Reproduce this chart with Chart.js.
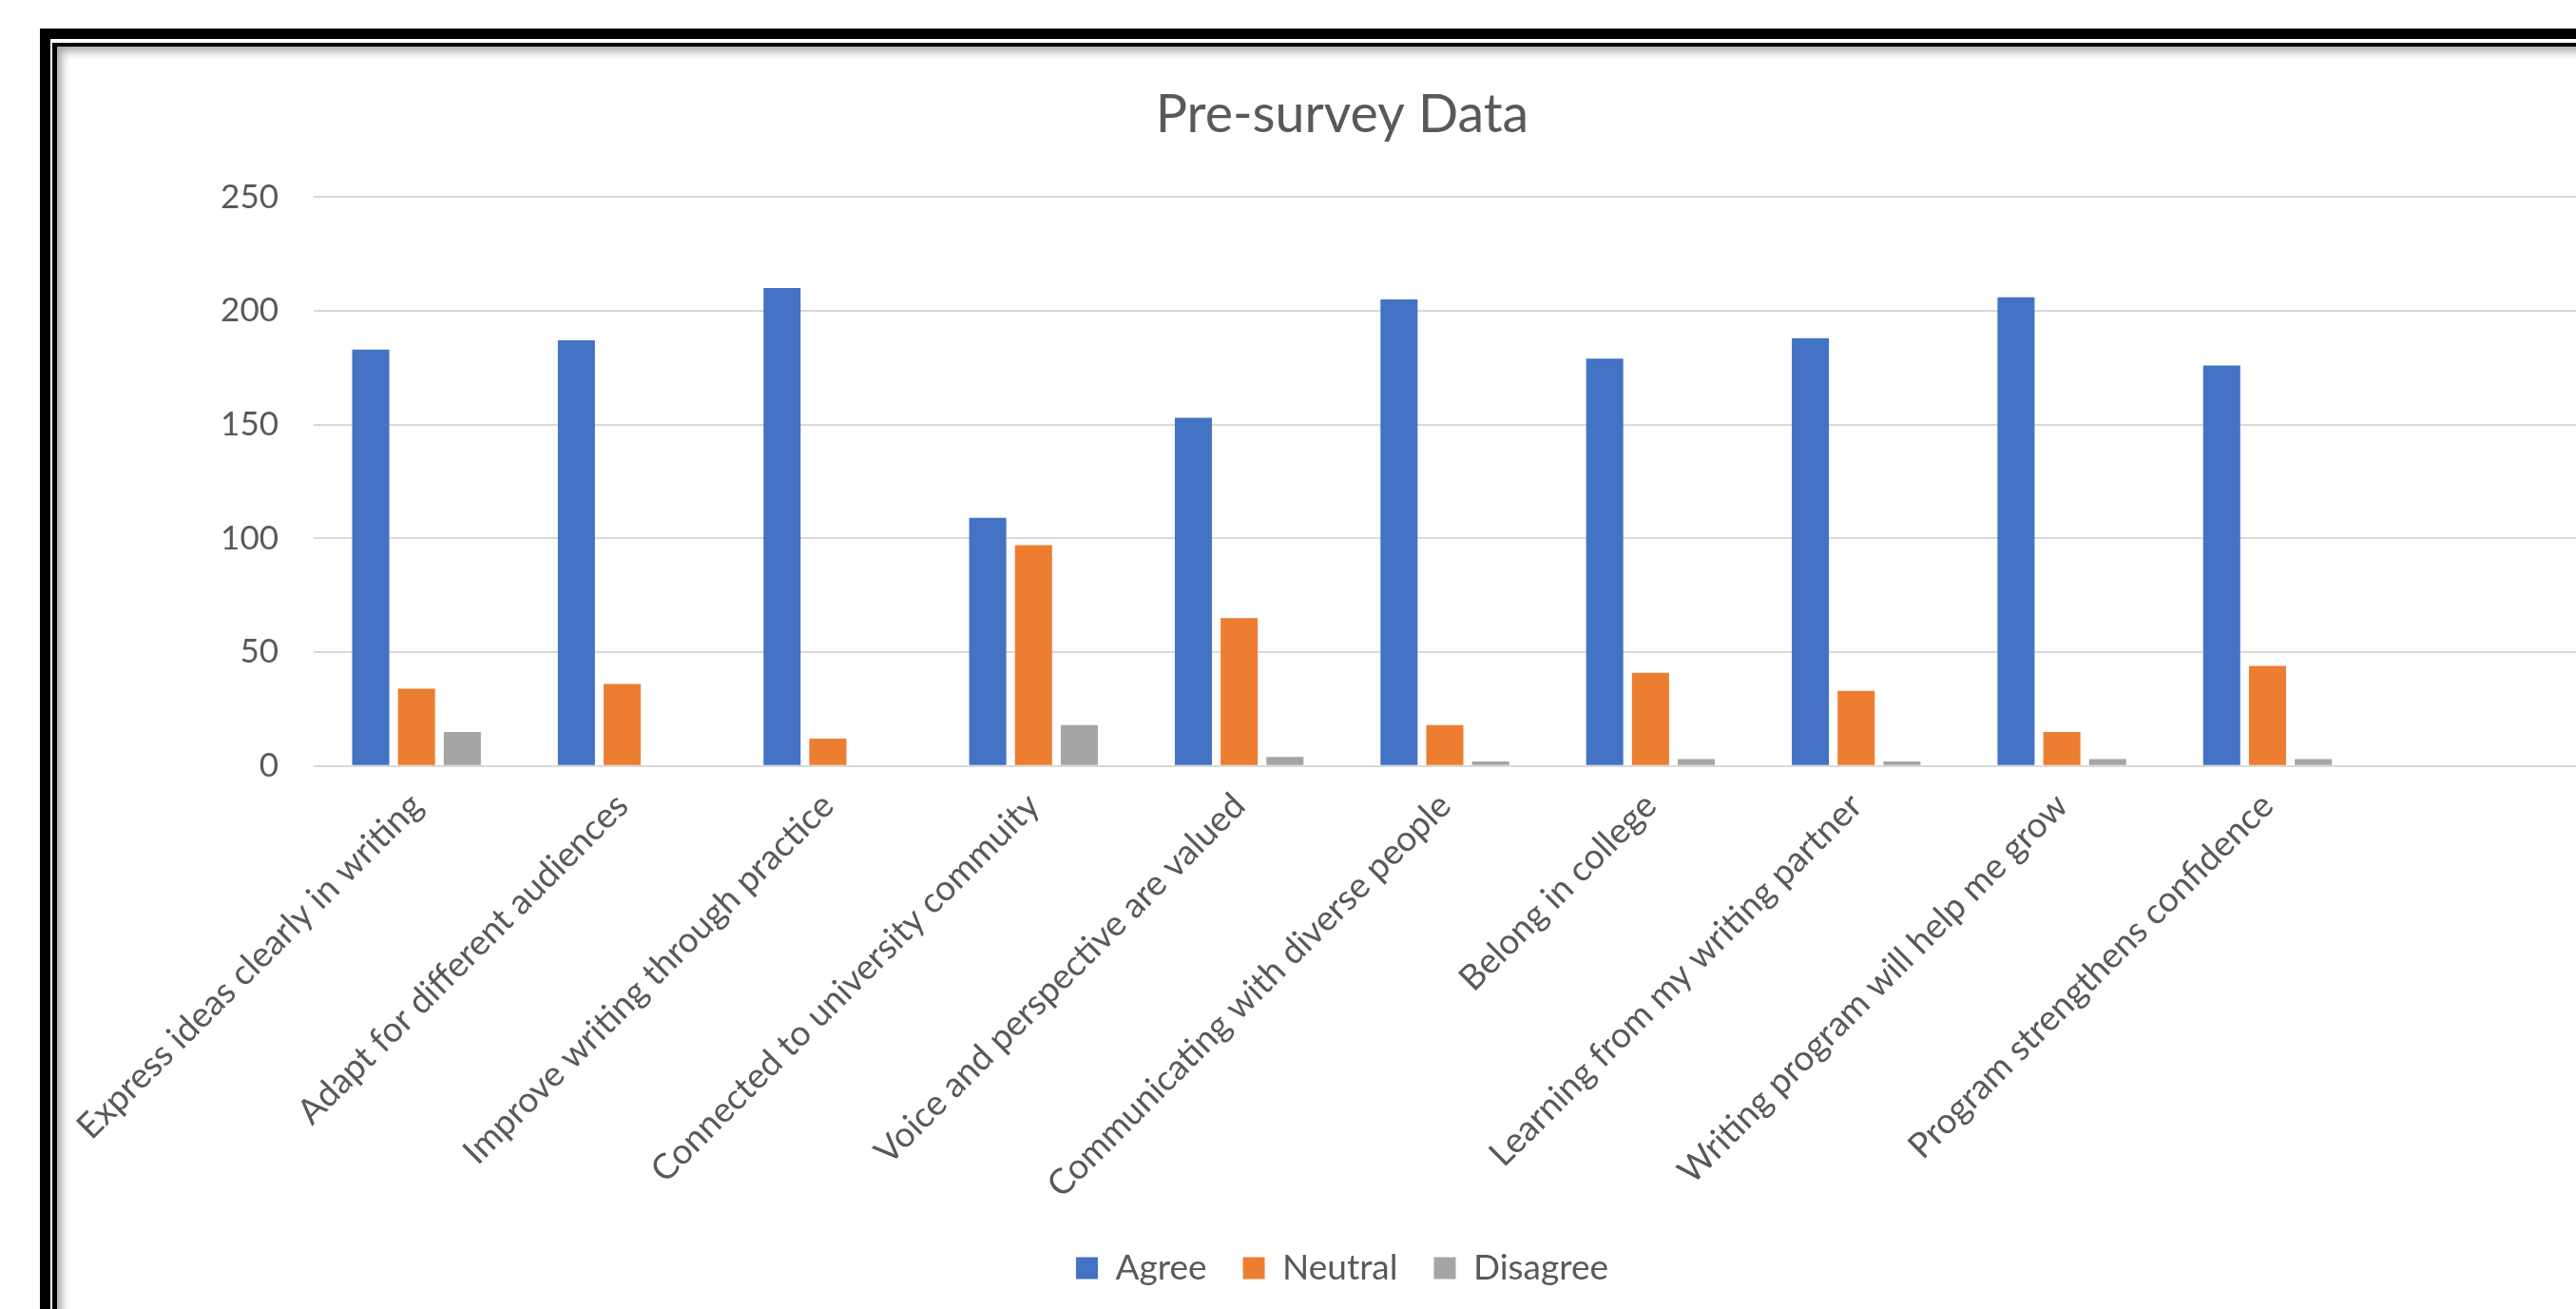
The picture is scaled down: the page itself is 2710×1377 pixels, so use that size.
<!DOCTYPE html>
<html>
<head>
<meta charset="utf-8">
<script src="https://cdn.jsdelivr.net/npm/chart.js@4.4.0/dist/chart.umd.min.js"></script>
<style>
html,body{margin:0;padding:0;background:#fff;width:2710px;height:1377px;overflow:hidden;}
#f1{position:absolute;left:42px;top:30px;width:3000px;height:2000px;border-left:11px solid #000;border-top:11px solid #000;box-sizing:border-box;}
#f2{position:absolute;left:55px;top:45px;width:3000px;height:2000px;border-left:5px solid #000;border-top:4px solid #000;box-sizing:border-box;}
#sh{position:absolute;left:60px;top:49px;width:3000px;height:2000px;box-shadow:inset 8px 8px 10px -3px rgba(0,0,0,0.35);}
#c{position:absolute;left:0;top:0;}
</style>
</head>
<body>
<div id="f1"></div>
<div id="f2"></div>
<div id="sh"></div>
<canvas id="c" width="2710" height="1377"></canvas>
<script>
const chartTitle = 'Pre-survey Data';
const categories = [
  'Express ideas clearly in writing',
  'Adapt for different audiences',
  'Improve writing through practice',
  'Connected to university commuity',
  'Voice and perspective are valued',
  'Communicating with diverse people',
  'Belong in college',
  'Learning from my writing partner',
  'Writing program will help me grow',
  'Program strengthens confidence'
];
const seriesNames = ['Agree', 'Neutral', 'Disagree'];
const agree    = [183, 187, 210, 109, 153, 205, 179, 188, 206, 176];
const neutral  = [34, 36, 12, 97, 65, 18, 41, 33, 15, 44];
const disagree = [15, 0, 0, 18, 4, 2, 3, 2, 3, 3];
const yTicks = [0, 50, 100, 150, 200, 250];
const colors = ['#4472C4', '#ED7D31', '#A5A5A5'];

function draw() {
  const txt = '#595959';
  new Chart(document.getElementById('c'), {
    type: 'bar',
    data: {
      labels: categories.concat(['']),
      datasets: [
        { label: seriesNames[0], data: agree, backgroundColor: colors[0] },
        { label: seriesNames[1], data: neutral, backgroundColor: colors[1] },
        { label: seriesNames[2], data: disagree, backgroundColor: colors[2] }
      ]
    },
    options: {
      responsive: false,
      animation: false,
      devicePixelRatio: 1,
      layout: { padding: { left: 114, right: 0, top: 0, bottom: 14.5 } },
      datasets: { bar: { categoryPercentage: 0.668, barPercentage: 0.81 } },
      plugins: {
        title: {
          display: true, text: chartTitle, color: txt,
          font: { family: 'Lato', size: 55.5, weight: 'normal' },
          padding: { top: 88.2, bottom: 52.5 }
        },
        legend: {
          position: 'bottom',
          labels: { color: txt, font: { family: 'Lato', size: 37 }, boxWidth: 23, boxHeight: 23, padding: 38 }
        },
        tooltip: { enabled: false }
      },
      scales: {
        x: {
          grid: { display: false, drawTicks: false },
          border: { display: false },
          ticks: { color: txt, font: { family: 'Lato', size: 37 }, maxRotation: 45, minRotation: 45, autoSkip: false, padding: 20 },
          afterFit(s) { s.height = 471.7; }
        },
        y: {
          min: 0, max: 250,
          grid: { color: '#D9D9D9', lineWidth: 2, drawTicks: false },
          border: { display: false },
          ticks: { stepSize: 50, color: txt, font: { family: 'Lato', size: 35 }, padding: 37 },
          afterBuildTicks(s) { s.ticks = yTicks.map(v => ({ value: v })); },
          afterFit(s) { s.width = 216; }
        }
      }
    }
  });
}
if (document.fonts && document.fonts.load) {
  document.fonts.load('37px Lato').then(draw, draw);
} else { draw(); }
</script>
</body>
</html>
